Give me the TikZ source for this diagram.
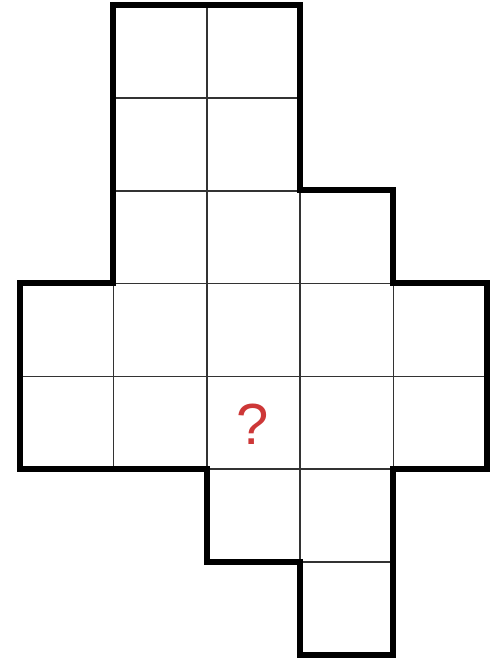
\documentclass[tikz,border=0pt]{standalone}
\usepackage{fontspec}
\setmainfont{Liberation Sans}
\definecolor{qred}{RGB}{205,55,55}
\tikzset{
  thin grid/.style={line width=1.7pt, draw=black!80},
  outline/.style={line width=5.5pt, draw=black, line join=miter},
  qmark/.style={text=qred, font=\fontsize{58}{58}\selectfont, inner sep=0pt}
}
\begin{document}
\begin{tikzpicture}[x=1pt,y=-1pt]
\useasboundingbox (0,0) rectangle (499,664);
% thin cell borders
\foreach \c/\r in {1/0,2/0,1/1,2/1,1/2,2/2,3/2,0/3,1/3,2/3,3/3,4/3,0/4,1/4,2/4,3/4,4/4,2/5,3/5,3/6}{
  \draw[thin grid] ({20+93.4*\c},{5+92.86*\r}) rectangle ({20+93.4*(\c+1)},{5+92.86*(\r+1)});
}
% outline
\draw[outline] (113,5) -- (300,5) -- (300,190) -- (393,190) -- (393,283) -- (487,283)
  -- (487,469) -- (393,469) -- (393,655) -- (300,655) -- (300,562) -- (207,562)
  -- (207,469) -- (20,469) -- (20,283) -- (113,283) -- cycle;
\node[qmark] (q) at (253,424) {?};
\end{tikzpicture}
\end{document}
